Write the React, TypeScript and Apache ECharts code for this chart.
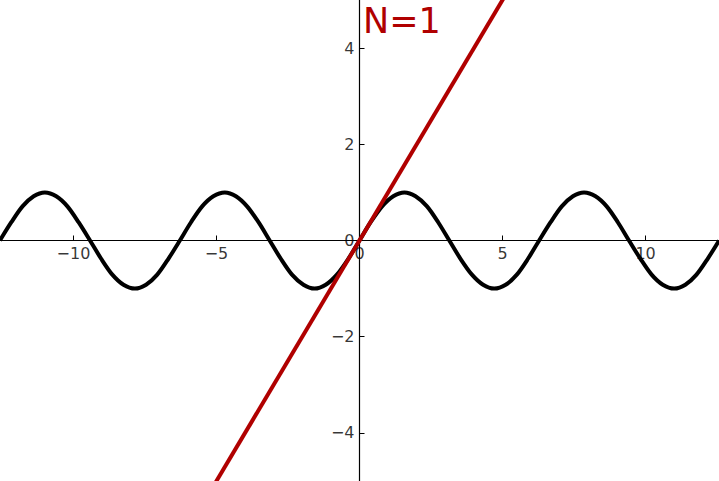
import React, { useEffect, useRef } from 'react'
import * as echarts from 'echarts'

// sin(x), every eighth of pi
const sineX = [
  -12.57, -12.17, -11.78, -11.39, -11.0, -10.6, -10.21, -9.82, -9.42, -9.03, -8.64,
  -8.25, -7.85, -7.46, -7.07, -6.68, -6.28, -5.89, -5.5, -5.11, -4.71, -4.32, -3.93,
  -3.53, -3.14, -2.75, -2.36, -1.96, -1.57, -1.18, -0.79, -0.39, 0, 0.39, 0.79, 1.18,
  1.57, 1.96, 2.36, 2.75, 3.14, 3.53, 3.93, 4.32, 4.71, 5.11, 5.5, 5.89, 6.28, 6.68,
  7.07, 7.46, 7.85, 8.25, 8.64, 9.03, 9.42, 9.82, 10.21, 10.6, 11.0, 11.39, 11.78,
  12.17, 12.57,
]
const sineY = [
  0, 0.38, 0.71, 0.92, 1, 0.92, 0.71, 0.38, 0, -0.38, -0.71, -0.92, -1, -0.92, -0.71, -0.38,
  0, 0.38, 0.71, 0.92, 1, 0.92, 0.71, 0.38, 0, -0.38, -0.71, -0.92, -1, -0.92, -0.71, -0.38,
  0, 0.38, 0.71, 0.92, 1, 0.92, 0.71, 0.38, 0, -0.38, -0.71, -0.92, -1, -0.92, -0.71, -0.38,
  0, 0.38, 0.71, 0.92, 1, 0.92, 0.71, 0.38, 0, -0.38, -0.71, -0.92, -1, -0.92, -0.71, -0.38,
  0,
]
// N=1 approximation (straight line)
const approxX = [-5.5, 5.5]
const approxY = [-5.5, 5.5]

const xTicks = [-10, -5, 0, 5, 10]
const yTicks = [-4, -2, 0, 2, 4]

const font = 'DejaVu Sans'
const fmt = (v: number) => String(v).replace('-', '\u2212')

export default function App() {
  const chartRef = useRef<HTMLDivElement | null>(null)

  useEffect(() => {
    if (!chartRef.current) return
    const chart = echarts.init(chartRef.current, undefined, { renderer: 'svg' })
    const tickLabel = (position: string) => ({
      show: true,
      position,
      distance: 5,
      fontFamily: font,
      fontSize: 16,
      color: '#000',
    })
    chart.setOption({
      animation: false,
      title: {
        text: 'N=1',
        left: 363,
        top: 3,
        padding: 0,
        textStyle: { fontFamily: font, fontSize: 35, fontWeight: 'normal', color: '#b00000' },
      },
      grid: { left: 0, right: 0, top: 0, bottom: 0, outerBoundsMode: 'none', containLabel: false },
      xAxis: {
        type: 'value',
        min: -4 * Math.PI,
        max: 4 * Math.PI,
        axisLine: { onZero: true, lineStyle: { color: '#000', width: 1.2 } },
        axisTick: { show: true, inside: true, length: 5, customValues: xTicks, lineStyle: { color: '#000' } },
        axisLabel: { show: false },
        splitLine: { show: false },
      },
      yAxis: {
        type: 'value',
        min: -5,
        max: 5,
        axisLine: { onZero: true, lineStyle: { color: '#000', width: 1.2 } },
        axisTick: { show: true, inside: true, length: 5, customValues: yTicks, lineStyle: { color: '#000' } },
        axisLabel: { show: false },
        splitLine: { show: false },
      },
      series: [
        {
          type: 'line',
          data: sineX.map((x, i) => [x, sineY[i]]),
          smooth: 0.3,
          showSymbol: false,
          lineStyle: { color: '#000', width: 4 },
        },
        {
          type: 'line',
          data: approxX.map((x, i) => [x, approxY[i]]),
          showSymbol: false,
          lineStyle: { color: '#b00000', width: 4 },
        },
        {
          type: 'scatter',
          silent: true,
          symbolSize: 0,
          data: xTicks.map((v) => [v, 0]),
          label: { ...tickLabel('bottom'), formatter: (p: any) => fmt(p.value[0]) },
          z: 5,
        },
        {
          type: 'scatter',
          silent: true,
          symbolSize: 0,
          data: yTicks.map((v) => [0, v]),
          label: { ...tickLabel('left'), formatter: (p: any) => fmt(p.value[1]) },
          z: 5,
        },
      ],
    })
    return () => chart.dispose()
  }, [])

  return (
    <div
      ref={chartRef}
      style={{ position: 'fixed', left: 0, top: 0, width: 719, height: 481, background: '#fff' }}
    />
  )
}
